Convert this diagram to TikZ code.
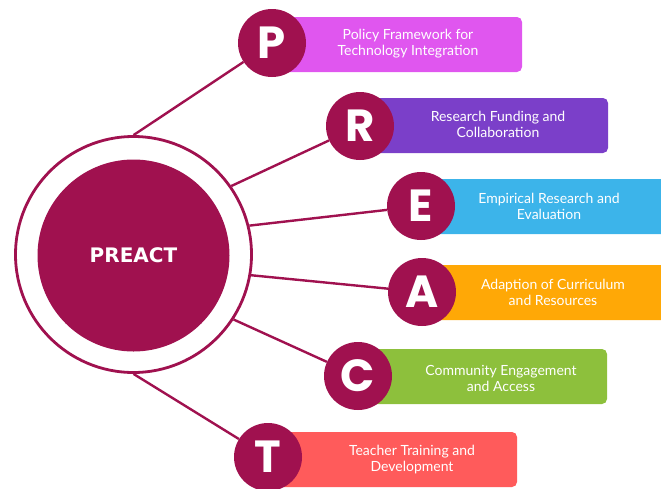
\documentclass[tikz,border=0pt]{standalone}
\usepackage{fontspec}
\setmainfont{Lato}
\newfontfamily\hubfont{DejaVu Sans}
\newfontfamily\letterfont{Poppins}
\definecolor{plum}{HTML}{A0114F}
\definecolor{cP}{HTML}{E056EF}
\definecolor{cR}{HTML}{7B3FC9}
\definecolor{cE}{HTML}{3CB4EA}
\definecolor{cA}{HTML}{FFA806}
\definecolor{cC}{HTML}{8DC03C}
\definecolor{cT}{HTML}{FF5B5B}
\begin{document}
\begin{tikzpicture}[x=1pt,y=-1pt,
  ring/.style={circle,draw=plum,line width=2.8pt,fill=white,minimum size=236pt,inner sep=0pt},
  core/.style={circle,fill=plum,minimum size=192pt,inner sep=0pt,text=white,font=\hubfont\bfseries\fontsize{20}{24}\selectfont},
  letter/.style={circle,fill=plum,minimum size=68pt,inner sep=0pt,text=white,font=\letterfont\bfseries\fontsize{45}{45}\selectfont},
  bar/.style={rectangle,rounded corners=5pt,minimum height=55pt,inner sep=0pt},
  label/.style={text=white,align=center,font=\fontsize{14}{16}\selectfont},
  link/.style={draw=plum,line width=2.4pt}
]
\useasboundingbox (0,0) rectangle (661,488);

% coloured bars behind the letter discs
\node[bar,fill=cP,minimum width=250pt] (pbar) at (397,44.5) {};
\node[bar,fill=cR,minimum width=248pt] (rbar) at (484,125.5) {};
\node[bar,fill=cE,minimum width=250pt] (ebar) at (546,206.5) {};
\node[bar,fill=cA,minimum width=250pt] (abar) at (547,292.5) {};
\node[bar,fill=cC,minimum width=249pt] (cbar) at (482.5,376.5) {};
\node[bar,fill=cT,minimum width=249pt] (tbar) at (392.5,459.5) {};

% central hub
\node[ring] (hub) at (133.5,254.5) {};
\node[core] (core) at (133.5,255.5) {PREACT};

% letter discs
\node[letter] (P) at (272,43) {P};
\node[letter] (R) at (360,126) {R};
\node[letter] (E) at (421,206) {E};
\node[letter] (A) at (422,292) {A};
\node[letter] (C) at (358,376) {C};
\node[letter] (T) at (268,457) {T};

% spokes from the ring to the discs
\draw[link] (hub.90) -- (P);
\draw[link] (hub.35) -- (R);
\draw[link] (hub.14) -- (E);
\draw[link] (hub.-10) -- (A);
\draw[link] (hub.-33) -- (C);
\draw[link] (hub.-90) -- (T);

% bar captions
\node[label] (ptext) at (408,44) {Policy Framework for\\Technology Integration};
\node[label] (rtext) at (498,124) {Research Funding and\\Collaboration};
\node[label] (etext) at (549,206) {Empirical Research and\\Evaluation};
\node[label] (atext) at (553,292) {Adaption of Curriculum\\and Resources};
\node[label] (ctext) at (501,378) {Community Engagement\\and Access};
\node[label] (ttext) at (412,460) {Teacher Training and\\Development};
\end{tikzpicture}
\end{document}
